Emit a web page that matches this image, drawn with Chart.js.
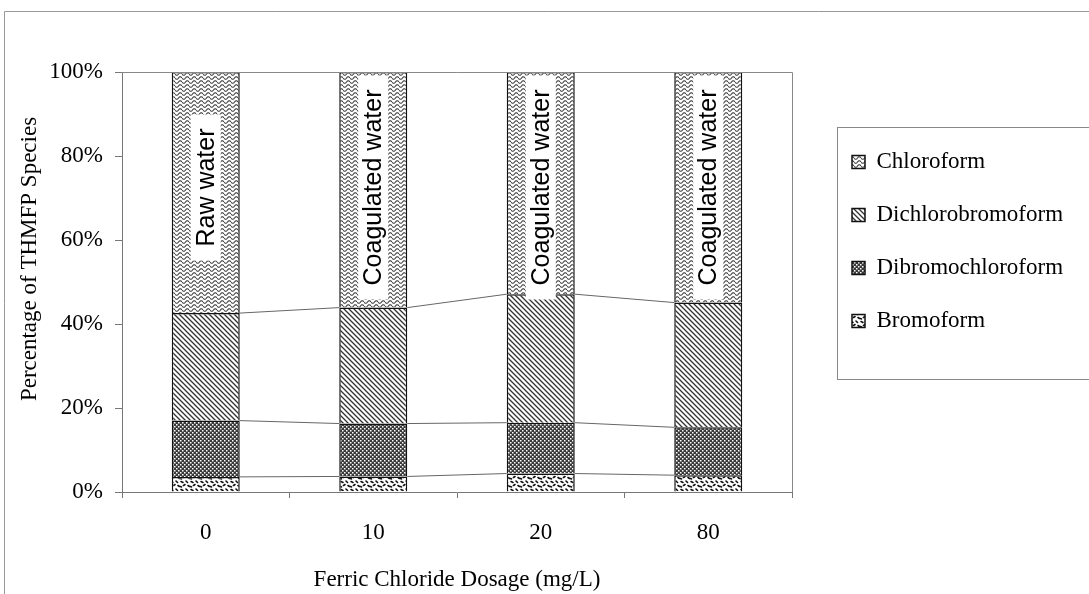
<!DOCTYPE html>
<html>
<head>
<meta charset="utf-8">
<script src="https://cdn.jsdelivr.net/npm/chart.js@4"></script>
<style>
  html, body { margin: 0; padding: 0; background: #fff; }
</style>
</head>
<body>
<canvas id="chart" width="1089" height="594"></canvas>
<script>
// ===== Data =====
const dosages = ['0', '10', '20', '80'];
const bromoform = [3.6, 3.7, 4.4, 4.0];
const dibromochloroform = [13.4, 12.6, 12.1, 11.4];
const dichlorobromoform = [25.6, 27.6, 30.6, 29.7];
const chloroform = [57.4, 56.1, 52.9, 54.9];
const barNotes = ['Raw water', 'Coagulated water', 'Coagulated water', 'Coagulated water'];
const seriesNames = ['Bromoform', 'Dibromochloroform', 'Dichlorobromoform', 'Chloroform'];

const FONT = '"Liberation Serif", "Times New Roman", serif';
const canvas = document.getElementById('chart');
const ctx = canvas.getContext('2d');

// ===== Fill patterns =====
function tile(w, h, paint) {
    const t = document.createElement('canvas');
    t.width = w; t.height = h;
    const g = t.getContext('2d');
    g.fillStyle = '#fff';
    g.fillRect(0, 0, w, h);
    paint(g);
    return ctx.createPattern(t, 'repeat');
}

const wavePattern = tile(7, 4, g => {
    g.strokeStyle = '#3c3c3c'; g.lineWidth = 1.1;
    g.beginPath();
    for (let x = 0; x <= 7; x += 0.5) {
        const y = 2 + 1.3 * Math.sin(x / 7 * Math.PI * 2);
        if (x === 0) g.moveTo(x, y); else g.lineTo(x, y);
    }
    g.stroke();
});

const diagPattern = tile(5, 5, g => {
    g.strokeStyle = '#333'; g.lineWidth = 1.3;
    g.beginPath();
    g.moveTo(-1, -1); g.lineTo(6, 6);
    g.moveTo(-1, 4); g.lineTo(1, 6);
    g.moveTo(4, -1); g.lineTo(6, 1);
    g.stroke();
});

const dotPattern = tile(4, 4, g => {
    g.fillStyle = '#3a3a3a'; g.fillRect(0, 0, 4, 4);
    g.fillStyle = '#fff';
    g.fillRect(0, 0, 1.5, 1.5);
    g.fillRect(2, 2, 1.5, 1.5);
});

const blotPattern = tile(10, 8, g => {
    g.strokeStyle = '#111'; g.lineWidth = 1.6; g.lineCap = 'round';
    g.beginPath();
    g.moveTo(1, 1.5); g.lineTo(3, 2.5);
    g.moveTo(6, 1); g.lineTo(7.5, 2.5);
    g.moveTo(3.5, 5.5); g.lineTo(5, 4.5);
    g.moveTo(8, 5.5); g.lineTo(9.5, 6.5);
    g.moveTo(0.5, 6.5); g.lineTo(1.5, 7);
    g.stroke();
});

// ===== Legend sizing (so the plot area ends where the reference does) =====
const legendFontSize = 23;
const legendPadding = 30;
const legendLeft = 822;
const gapRight = 30;
const m = document.createElement('canvas').getContext('2d');
m.font = legendFontSize + 'px ' + FONT;
const maxText = Math.max(...seriesNames.map(n => m.measureText(n).width));
const legendWidth = legendPadding + 13 + legendFontSize / 2 + maxText + 10;
const padRight = 1089 - legendLeft - legendWidth;

// ===== Plugins =====
const decorations = {
    id: 'decorations',
    beforeDraw(chart) {
        const c = chart.ctx;
        c.save();
        c.strokeStyle = '#999';
        c.lineWidth = 1;
        c.beginPath();
        c.moveTo(4.5, 700); c.lineTo(4.5, 11.5); c.lineTo(1200, 11.5);
        c.stroke();
        c.restore();
    },
    afterDatasetsDraw(chart) {
        const c = chart.ctx;
        const area = chart.chartArea;
        c.save();
        // plot border
        c.strokeStyle = '#888';
        c.lineWidth = 1;
        c.beginPath();
        c.moveTo(area.left, area.top + 0.5);
        c.lineTo(area.right + 0.5, area.top + 0.5);
        c.lineTo(area.right + 0.5, area.bottom);
        c.stroke();

        // series lines between bars
        c.strokeStyle = '#666';
        for (let d = 0; d < chart.data.datasets.length - 1; d++) {
            const bars = chart.getDatasetMeta(d).data;
            for (let j = 0; j < bars.length - 1; j++) {
                const a = bars[j].getProps(['x', 'y', 'width'], true);
                const b = bars[j + 1].getProps(['x', 'y', 'width'], true);
                c.beginPath();
                c.moveTo(a.x + a.width / 2, a.y);
                c.lineTo(b.x - b.width / 2, b.y);
                c.stroke();
            }
        }

        // vertical notes inside bars
        const topBars = chart.getDatasetMeta(chart.data.datasets.length - 1).data;
        const yMid = chart.scales.y.getPixelForValue(72.5);
        c.font = '25px "Liberation Sans Narrow", "Liberation Sans", sans-serif';
        c.textAlign = 'center';
        c.textBaseline = 'middle';
        topBars.forEach((bar, j) => {
            const p = bar.getProps(['x'], true);
            const w = c.measureText(barNotes[j]).width;
            c.save();
            c.translate(p.x, yMid);
            c.rotate(-Math.PI / 2);
            c.fillStyle = '#fff';
            c.fillRect(-w / 2 - 14, -15, w + 28, 30);
            c.fillStyle = '#000';
            c.fillText(barNotes[j], 0, 1);
            c.restore();
        });
        c.restore();
    },
    afterDraw(chart) {
        const hb = chart.legend.legendHitBoxes;
        if (!hb || !hb.length) return;
        const first = hb[0], last = hb[hb.length - 1];
        const c = chart.ctx;
        c.save();
        c.strokeStyle = '#888';
        c.lineWidth = 1;
        const top = first.top - 24;
        const bottom = last.top + last.height + 46;
        c.strokeRect(Math.round(first.left - 15) + 0.5, Math.round(top) + 0.5, 400, Math.round(bottom - top));
        c.restore();
    }
};

// ===== Chart =====
new Chart(ctx, {
    type: 'bar',
    data: {
        labels: dosages,
        datasets: [
            { label: seriesNames[0], data: bromoform, backgroundColor: blotPattern },
            { label: seriesNames[1], data: dibromochloroform, backgroundColor: dotPattern },
            { label: seriesNames[2], data: dichlorobromoform, backgroundColor: diagPattern },
            { label: seriesNames[3], data: chloroform, backgroundColor: wavePattern }
        ].map(ds => Object.assign(ds, {
            borderColor: '#111',
            borderWidth: 1.5,
            barPercentage: 0.406,
            categoryPercentage: 1
        }))
    },
    options: {
        responsive: false,
        animation: false,
        layout: { padding: { left: 0, top: 72, bottom: 0, right: padRight } },
        font: { family: FONT, size: 23 },
        plugins: {
            tooltip: { enabled: false },
            legend: {
                position: 'right',
                align: 'start',
                fullSize: false,
                reverse: true,
                maxWidth: 400,
                title: { display: true, text: ' ', padding: 10.5, font: { family: FONT, size: 23 } },
                labels: {
                    color: '#000',
                    font: { family: FONT, size: legendFontSize },
                    boxWidth: 13,
                    boxHeight: 13,
                    padding: legendPadding
                }
            }
        },
        scales: {
            x: {
                stacked: true,
                grid: { display: true, drawOnChartArea: false, drawTicks: true, tickLength: 6, color: '#777', offset: true },
                border: { color: '#777' },
                ticks: { color: '#000', font: { family: FONT, size: 23 }, padding: 21 },
                title: {
                    display: true,
                    text: 'Ferric Chloride Dosage (mg/L)',
                    color: '#000',
                    font: { family: FONT, size: 23 },
                    padding: { top: 0, bottom: 0 }
                },
                afterFit(s) { s.height = 102; }
            },
            y: {
                stacked: true,
                min: 0,
                max: 100,
                grid: { display: true, drawOnChartArea: false, drawTicks: true, tickLength: 7, color: '#777' },
                border: { color: '#777' },
                ticks: {
                    stepSize: 20,
                    color: '#000',
                    font: { family: FONT, size: 23 },
                    padding: 12,
                    callback: v => v + '%'
                },
                title: {
                    display: true,
                    // leading spaces lift the title a little above the axis centre, as in the reference
                    text: '        Percentage of THMFP Species',
                    color: '#000',
                    font: { family: FONT, size: 23 },
                    padding: { top: 16, bottom: 0 }
                },
                afterFit(s) { s.width = 122; }
            },
            gap: {
                type: 'linear',
                position: 'right',
                display: true,
                grid: { display: false },
                border: { display: false },
                ticks: { display: false },
                afterFit(s) { s.width = gapRight; }
            }
        }
    },
    plugins: [decorations]
});
</script>
</body>
</html>
